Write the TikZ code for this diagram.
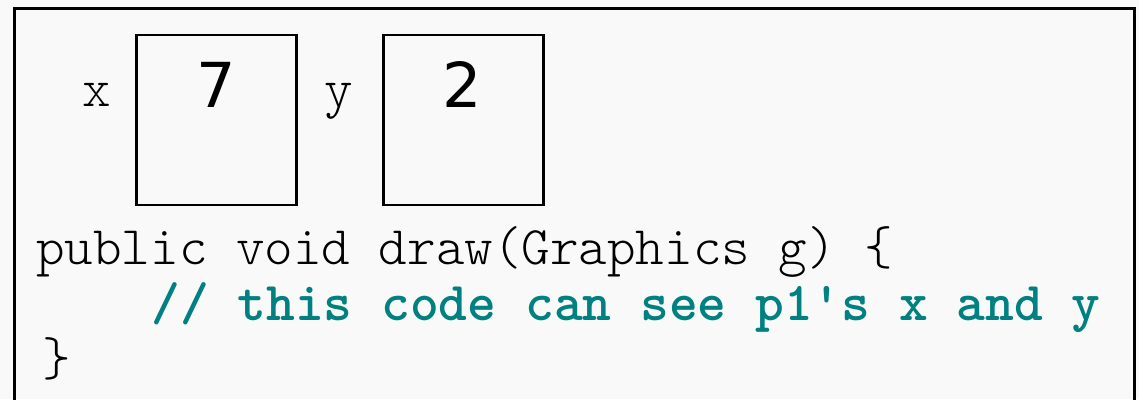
\documentclass[tikz,border=0pt]{standalone}
\usepackage{fontspec}
\newfontfamily\numfont{DejaVu Sans}
\newfontfamily\codefont{Latin Modern Mono Light}
\definecolor{bgc}{RGB}{249,249,249}
\definecolor{teal}{RGB}{0,128,128}
\begin{document}
\begin{tikzpicture}[x=1pt,y=-1pt,
  code/.style={inner sep=0pt,anchor=base west,font=\fontsize{54.4}{60}\selectfont\codefont},
  numtxt/.style={inner sep=0pt,anchor=base,font=\fontsize{62}{70}\selectfont\numfont},
  cell/.style={draw=black,line width=2.8pt,inner sep=0pt,minimum width=160pt,minimum height=170pt,anchor=north west},
  comment/.style={code,text=teal,font=\fontsize{54.8}{60}\selectfont\ttfamily\bfseries}]
\fill[bgc] (0,0) rectangle (1139,399);
\useasboundingbox (0,0) rectangle (1139,399);
\draw[line width=3pt] (14,410) -- (14,8) -- (1134.5,8) -- (1134.5,410);
\node[cell] (bx) at (135,33.5) {};
\node[cell] (by) at (382,33.5) {};
\node[code] (lx) at (82,106) {x};
\node[code] (ly) at (324,106) {y};
\node[numtxt] (vx) at (216,107) {7};
\node[numtxt] (vy) at (462,107) {2};
\node[code] (l1) at (36,264) {public void draw(Graphics g) \{};
\node[comment] (l2) at (36,320) {\ \ \ \ // this code can see p1's x and y};
\node[code] (l3) at (42,375) {\}};
\end{tikzpicture}
\end{document}
